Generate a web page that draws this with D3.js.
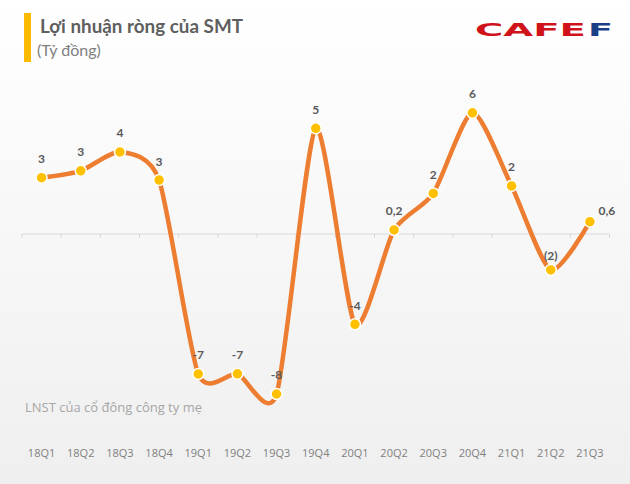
<!DOCTYPE html>
<html>
<head>
<meta charset="utf-8">
<script src="https://cdn.jsdelivr.net/npm/d3@7"></script>
<style>
  html, body { margin: 0; padding: 0; background: #fff; }
  svg { display: block; }
</style>
</head>
<body>
<svg id="chart" width="630" height="484"></svg>
<script>
// ---- Data ----
const categories = ["18Q1","18Q2","18Q3","18Q4","19Q1","19Q2","19Q3","19Q4","20Q1","20Q2","20Q3","20Q4","21Q1","21Q2","21Q3"];
const profit = [2.79, 3.13, 4.06, 2.67, -6.93, -6.92, -7.92, 5.23, -4.47, 0.2, 2.01, 6.0, 2.38, -1.78, 0.61];
const valueLabels = ["3","3","4","3","-7","-7","-8","5","-4","0,2","2","6","2","(2)","0,6"];
const titleText = "Lợi nhuận  ròng  của SMT";
const unitText = "(Tỷ đồng)";
const noteText = "LNST của cổ đông công ty mẹ";

// ---- Setup ----
const W = 630, H = 484;
const svg = d3.select("#chart");
const defs = svg.append("defs");
const grad = defs.append("linearGradient").attr("id","bg").attr("x1",0).attr("y1",0).attr("x2",0).attr("y2",1);
grad.append("stop").attr("offset","0%").attr("stop-color","#ffffff");
grad.append("stop").attr("offset","100%").attr("stop-color","#efefef");
svg.append("rect").attr("width",W).attr("height",H).attr("fill","url(#bg)");

const x = d3.scaleBand().domain(categories).range([22, 609.5]);
const y = d3.scaleLinear().domain([-9, 7]).range([415.8, 92.6]);
const cx = d => x(d) + x.bandwidth()/2;

// ---- Title ----
svg.append("rect").attr("x",24).attr("y",13).attr("width",7).attr("height",49).attr("fill","#FBBA00");
svg.append("text").attr("x",40).attr("y",33)
  .attr("font-family","Lato, 'Open Sans', sans-serif").attr("font-weight","bold")
  .attr("font-size",18).attr("fill","#5f5f5f")
  .attr("textLength",203).attr("lengthAdjust","spacingAndGlyphs")
  .text(titleText);
svg.append("text").attr("x",37).attr("y",56)
  .attr("font-family","Lato, 'Open Sans', sans-serif")
  .attr("font-size",16).attr("fill","#7f7f7f")
  .text(unitText);

// ---- Logo ----
const logo = svg.append("g").attr("font-family","'DejaVu Sans', sans-serif").attr("font-weight","bold").attr("font-size",18.5);
logo.append("text").attr("x",475).attr("y",35.5).attr("fill","#D0121B")
  .attr("textLength",111).attr("lengthAdjust","spacingAndGlyphs").text("CAFE");
logo.append("text").attr("x",588).attr("y",35.5).attr("fill","#1B3F84")
  .attr("textLength",25).attr("lengthAdjust","spacingAndGlyphs").text("F");

// ---- Axis ----
const axisG = svg.append("g");
axisG.append("line").attr("x1",x.range()[0]).attr("x2",x.range()[1])
  .attr("y1",y(0)).attr("y2",y(0)).attr("stroke","#d9d9d9").attr("stroke-width",1);
const bounds = categories.map(c => x(c)).concat([x.range()[1]]);
axisG.selectAll("line.tick").data(bounds).enter().append("line")
  .attr("x1",d=>d).attr("x2",d=>d).attr("y1",y(0)).attr("y2",y(0)+4)
  .attr("stroke","#d9d9d9").attr("stroke-width",1);

// X labels
svg.append("g").selectAll("text").data(categories).enter().append("text")
  .attr("x",d=>cx(d)).attr("y",457).attr("text-anchor","middle")
  .attr("font-family","'Open Sans', sans-serif").attr("font-size",11).attr("fill","#7f7f7f")
  .text(d=>d);

// Footnote
svg.append("text").attr("x",25).attr("y",412)
  .attr("font-family","'Open Sans', sans-serif").attr("font-size",13).attr("fill","#a6a6a6")
  .text(noteText);

// ---- Line ----
const pts = categories.map((c,i)=>({c, v: profit[i], lab: valueLabels[i], i}));
const line = d3.line().x(d=>cx(d.c)).y(d=>y(d.v)).curve(d3.curveCardinal.tension(0.3));
svg.append("path").datum(pts).attr("d",line).attr("fill","none")
  .attr("stroke","#ED7D31").attr("stroke-width",4.5).attr("stroke-linecap","round");

svg.append("g").selectAll("circle").data(pts).enter().append("circle")
  .attr("cx",d=>cx(d.c)).attr("cy",d=>y(d.v)).attr("r",5.5)
  .attr("fill","#FFC000").attr("stroke","#ffffff").attr("stroke-width",1.5);

// Labels
svg.append("g").selectAll("text").data(pts).enter().append("text")
  .attr("x",d=> d.i===14 ? cx(d.c)+17 : cx(d.c))
  .attr("y",d=> d.i===14 ? y(d.v)-7 : (d.i===13 ? y(d.v)-10 : y(d.v)-14.5))
  .attr("text-anchor","middle")
  .attr("font-family","Lato, 'Open Sans', sans-serif").attr("font-weight","bold")
  .attr("font-size",12).attr("fill","#595959")
  .text(d=>d.lab);
</script>
</body>
</html>
